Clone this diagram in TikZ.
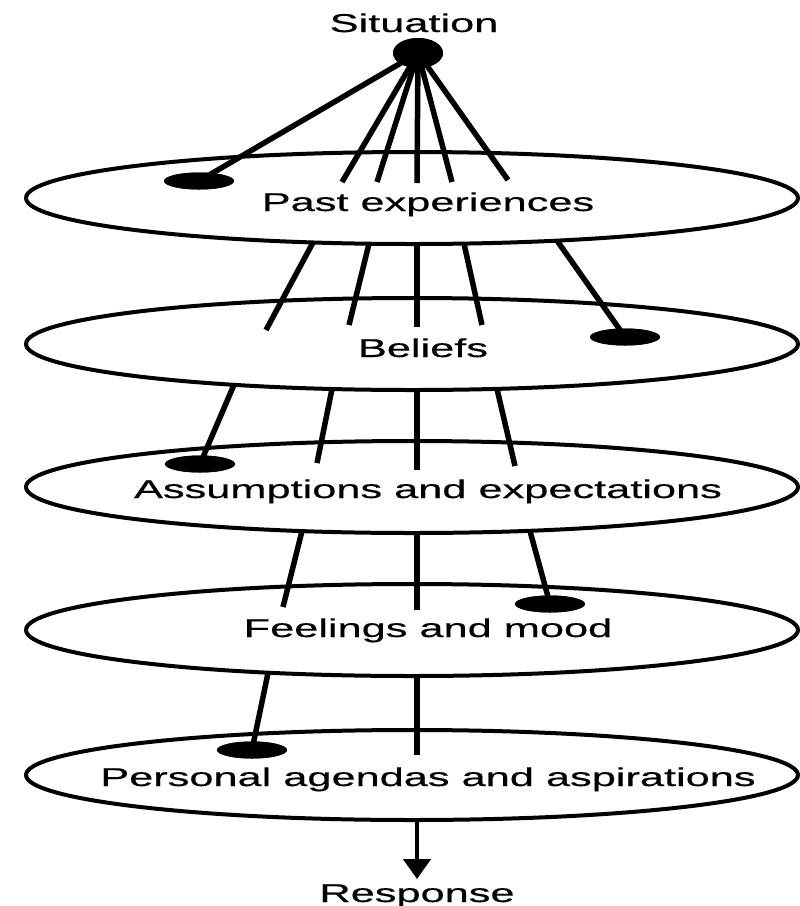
\documentclass[tikz,border=0pt]{standalone}
\usepackage{fontspec}
\setmainfont[FakeStretch=1.68,FakeBold=0.4]{Liberation Sans}
\usetikzlibrary{shapes.geometric,arrows.meta}
\begin{document}
\begin{tikzpicture}[x=1pt,y=-1pt,
  disc/.style={draw, line width=4pt, fill=white, ellipse, minimum width=772pt, minimum height=92pt, inner sep=0pt},
  lbl/.style={anchor=base, inner sep=0pt, font=\fontsize{25.8}{30}\selectfont},
  ray/.style={line width=5.5pt},
  blob/.style={fill=black, ellipse, minimum width=70pt, minimum height=17pt, inner sep=0pt},
  srcdot/.style={fill=black, ellipse, minimum width=50pt, minimum height=30pt, inner sep=0pt},
  outarrow/.style={line width=4.5pt, -{Triangle[width=27pt,length=20pt]}}
]
\useasboundingbox (0,0) rectangle (800,906);

% discs
\node[disc] (e1) at (412,198) {};
\node[disc] (e2) at (412,344) {};
\node[disc] (e3) at (412,487) {};
\node[disc] (e4) at (412,630) {};
\node[disc, minimum height=90pt] (e5) at (412,775) {};

% labels
\node[lbl] (sit) at (414,32) {Situation};
\node[lbl] (t1) at (428,211) {Past experiences};
\node[lbl] (t2) at (423,357) {Beliefs};
\node[lbl] (t3) at (428,498) {Assumptions and expectations};
\node[lbl] (t4) at (428,637) {Feelings and mood};
\node[lbl] (t5) at (428,786) {Personal agendas and aspirations};
\node[lbl] (resp) at (417,902) {Response};

% source dot and end blobs
\node[srcdot] (src) at (418,53) {};
\node[blob] (b1) at (199,181) {};
\node[blob] (b2) at (625,337) {};
\node[blob] (b3) at (200,464) {};
\node[blob] (b4) at (550,604) {};
\node[blob] (b5) at (252,750) {};

% section 1: from the situation
\coordinate (a1) at (342,182);
\coordinate (a2) at (377,182);
\coordinate (a3) at (417,183);
\coordinate (a4) at (452,182);
\coordinate (a5) at (508,180);
\draw[ray] (src.center) -- (b1.center);
\foreach \p in {a1,a2,a3,a4,a5} \draw[ray] (src.center) -- (\p);

% section 2: below past experiences
\coordinate (p1) at (313,242.5); \coordinate (q1) at (266,330);
\coordinate (p2) at (369,243.7); \coordinate (q2) at (349,325);
\coordinate (p3) at (417,244);   \coordinate (q3) at (417,327);
\coordinate (p4) at (464,243.6); \coordinate (q4) at (482,325);
\coordinate (p5) at (557,240.6);
\draw[ray] (p1) -- (q1);
\draw[ray] (p2) -- (q2);
\draw[ray] (p3) -- (q3);
\draw[ray] (p4) -- (q4);
\draw[ray] (p5) -- (b2.center);

% section 3: below beliefs
\coordinate (r1) at (234,384.8);
\coordinate (r2) at (332,389); \coordinate (s2) at (317,463);
\coordinate (r3) at (417,390); \coordinate (s3) at (417,470);
\coordinate (r4) at (497,389); \coordinate (s4) at (515,466);
\draw[ray] (r1) -- (b3.center);
\draw[ray] (r2) -- (s2);
\draw[ray] (r3) -- (s3);
\draw[ray] (r4) -- (s4);

% section 4: below assumptions
\coordinate (u1) at (302,531); \coordinate (v1) at (283,607);
\coordinate (u2) at (417,533); \coordinate (v2) at (417,610);
\coordinate (u3) at (530,531);
\draw[ray] (u1) -- (v1);
\draw[ray] (u2) -- (v2);
\draw[ray] (u3) -- (b4.center);

% section 5: below feelings
\coordinate (w1) at (268,673);
\coordinate (w2) at (417,676); \coordinate (z2) at (417,755);
\draw[ray] (w1) -- (b5.center);
\draw[ray] (w2) -- (z2);

% output arrow
\coordinate (o1) at (417,820);
\coordinate (o2) at (417,879);
\draw[outarrow] (o1) -- (o2);

% redraw dots on top
\node[srcdot] at (src) {};
\foreach \b in {b1,b2,b3,b4,b5} \node[blob] at (\b) {};
\end{tikzpicture}
\end{document}
